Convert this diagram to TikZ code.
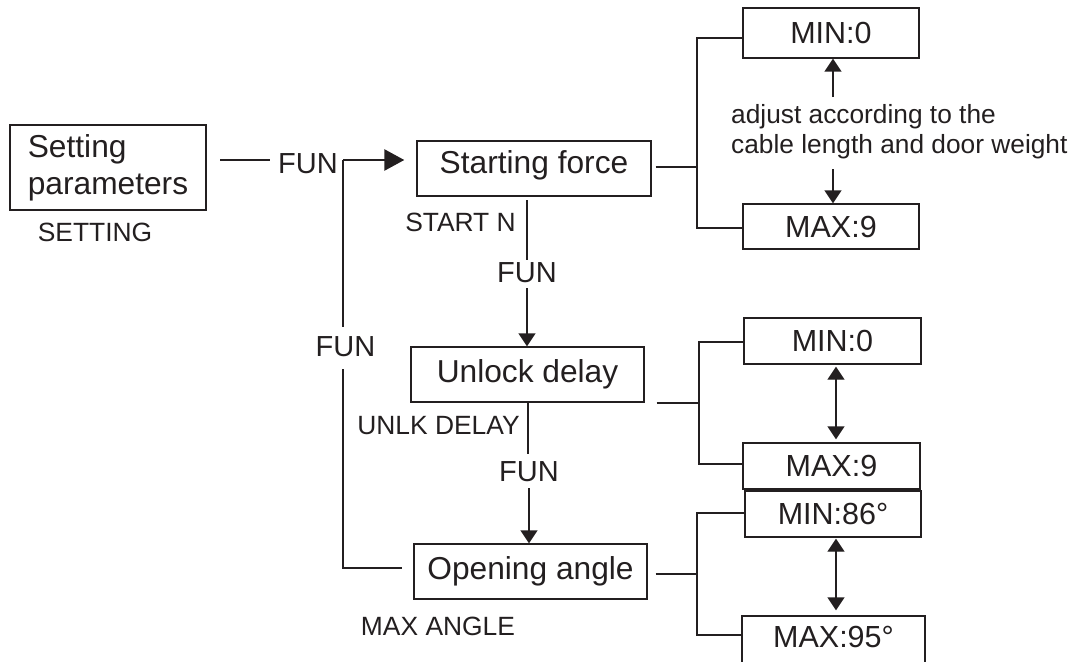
\documentclass[tikz,border=0pt]{standalone}
\usepackage{fontspec}
\setmainfont{Liberation Sans}
\usetikzlibrary{arrows.meta}
\definecolor{ink}{HTML}{231F20}
\begin{document}
\begin{tikzpicture}[x=1pt,y=-1pt,
  box/.style={draw=ink, line width=1.4pt, inner sep=0pt, text=ink},
  bigtxt/.style={font=\fontsize{31.7}{37}\selectfont},
  valtxt/.style={font=\fontsize{30.5}{36}\selectfont},
  lbl/.style={inner sep=0pt, text=ink, font=\fontsize{26.4}{30}\selectfont},
  note/.style={inner sep=0pt, text=ink, font=\fontsize{26.3}{30}\selectfont, anchor=base west},
  funlbl/.style={inner sep=0pt, text=ink, font=\fontsize{29}{34}\selectfont},
  ln/.style={draw=ink, line width=1.4pt},
  thk/.style={draw=ink, line width=2.8pt},
  arrv/.style={ln, -{Triangle[length=13pt,width=17pt]}},
  arrd/.style={ln, {Triangle[length=13pt,width=17pt]}-{Triangle[length=13pt,width=17pt]}},
  arrh/.style={thk, -{Triangle[length=20pt,width=21pt]}},
]
\useasboundingbox (0,0) rectangle (1081,661);
\clip (0,0) rectangle (1081,661);

% left
\node[box, bigtxt, minimum width=196pt, minimum height=85pt, align=left] (setp) at (108,167.5) {Setting\\parameters};
\node[lbl] (setlbl) at (95,232.5) {SETTING};
\node[funlbl] (fun1) at (308,163.5) {FUN};
\node[funlbl] (funl) at (345.5,347) {FUN};

% middle column
\node[box, bigtxt, minimum width=234pt, minimum height=55pt, text height=23pt, text depth=14pt] (sf) at (534,168.5) {Starting force};
\node[lbl] (sflbl) at (460.5,222.5) {START N};
\node[funlbl] (funa) at (527,273) {FUN};
\node[box, bigtxt, minimum width=233pt, minimum height=55pt, text height=23pt, text depth=7pt] (ud) at (527.5,374.5) {Unlock delay};
\node[lbl] (udlbl) at (438.5,426) {UNLK DELAY};
\node[funlbl] (funb) at (529,472) {FUN};
\node[box, bigtxt, minimum width=233pt, minimum height=55pt, text height=23pt, text depth=7pt] (oa) at (530.5,571.5) {Opening angle};
\node[lbl] (oalbl) at (438,626.5) {MAX ANGLE};

% right values
\node[box, valtxt, minimum width=176pt, minimum height=50pt] (min1) at (831,33) {MIN:0};
\node[box, valtxt, minimum width=176pt, minimum height=45pt] (max1) at (831,226.5) {MAX:9};
\node[note] (adj1) at (731,123) {adjust according to the};
\node[note] (adj2) at (731,153) {cable length and door weight};
\node[box, valtxt, minimum width=177pt, minimum height=46pt] (min2) at (832.5,341) {MIN:0};
\node[box, valtxt, minimum width=177pt, minimum height=46pt] (max2) at (831.5,466) {MAX:9};
\node[box, valtxt, minimum width=176pt, minimum height=46pt] (min3) at (833,514) {MIN:86°};
\node[box, valtxt, minimum width=183pt, minimum height=52pt, text height=21.8pt, text depth=10pt] (max3) at (833.5,642) {MAX:95°};

% coordinates
\coordinate (s1) at (220,160);
\coordinate (j1) at (343,160);
\coordinate (l1) at (343,327);
\coordinate (l2) at (343,369);
\coordinate (l3) at (343,568);
\coordinate (c1) at (527,200);
\coordinate (c2) at (527,260);
\coordinate (c3) at (527,288);
\coordinate (c4) at (528,454);
\coordinate (c5) at (529,488);
\coordinate (b1t) at (697,38);
\coordinate (b1m) at (697,167);
\coordinate (b1b) at (697,228);
\coordinate (b2t) at (699,342);
\coordinate (b2m) at (699,403);
\coordinate (b2b) at (699,464);
\coordinate (b3t) at (697,513);
\coordinate (b3m) at (697,574);
\coordinate (b3b) at (697,635);
\coordinate (u1) at (833,97);
\coordinate (d1) at (833,169);
\coordinate (v2) at (836,400);
\coordinate (v3) at (836,570);

% left connectors
\draw[thk] (s1) -- ([xshift=-8pt]fun1.west |- s1);
\draw[arrh] (j1) -- ([xshift=-12pt]sf.west |- j1);
\draw[ln] (j1) -- (l1);
\draw[ln] (l2) -- (l3) -- ([xshift=-11pt]oa.west |- l3);

% middle connectors
\draw[ln] (c1) -- (c2);
\draw[arrv] (c3) -- (c3 |- ud.north);
\draw[ln] (c4 |- ud.south) -- (c4);
\draw[arrv] (c5) -- (c5 |- oa.north);

% right brackets
\draw[ln] ([xshift=4pt]sf.east |- b1m) -- (b1m);
\draw[ln] (min1.west |- b1t) -- (b1t) -- (b1b) -- (max1.west |- b1b);
\draw[ln] ([xshift=12pt]ud.east |- b2m) -- (b2m);
\draw[ln] (min2.west |- b2t) -- (b2t) -- (b2b) -- (max2.west |- b2b);
\draw[ln] ([xshift=8pt]oa.east |- b3m) -- (b3m);
\draw[ln] (min3.west |- b3t) -- (b3t) -- (b3b) -- (max3.west |- b3b);

% value arrows
\draw[arrv] (u1) -- (u1 |- min1.south);
\draw[arrv] (d1) -- (d1 |- max1.north);
\draw[arrd] ([yshift=-2pt]v2 |- min2.south) -- ([yshift=3pt]v2 |- max2.north);
\draw[arrd] ([yshift=-1pt]v3 |- min3.south) -- ([yshift=5pt]v3 |- max3.north);
\end{tikzpicture}
\end{document}
